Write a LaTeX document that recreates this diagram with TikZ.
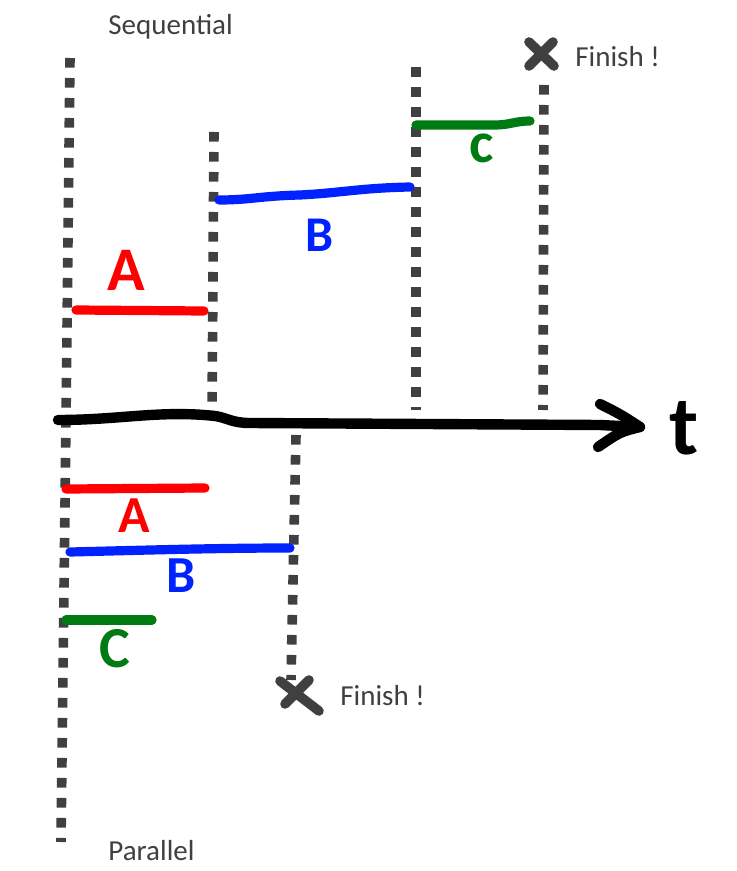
\documentclass[tikz,border=0pt]{standalone}
\usepackage{fontspec}
\setmainfont{Carlito}
\usetikzlibrary{arrows.meta}
\definecolor{inkgray}{HTML}{404040}
\definecolor{inkred}{HTML}{FF0000}
\definecolor{inkblue}{HTML}{0022FF}
\definecolor{inkgreen}{HTML}{007A12}

\begin{document}
\begin{tikzpicture}[x={(0.5pt,0)},y={(0,-0.5pt)},
  dotline/.style={inkgray,line width=4.8pt,dash pattern=on 4.8pt off 5.2pt},
  pen/.style={line width=4.6pt,line cap=round,line join=round},
  hand/.style={font=\fontsize{#1}{#1}\selectfont\bfseries,inner sep=0pt},
  note/.style={inkgray,font=\fontsize{14.5}{16}\selectfont,inner sep=0pt}]
  \useasboundingbox (0,0) rectangle (736,871);

  % time boundaries
  \draw[dotline] (70,58) -- (66,420) -- (61,842);
  \draw[dotline] (214,132) -- (212,416);
  \draw[dotline] (416,67) -- (416,410);
  \draw[dotline] (544,85) -- (543,410);
  \draw[dotline] (296,435) -- (291,680);

  % time axis
  \draw[pen,line width=5.2pt] (58,420) .. controls (120,420) and (160,410) .. (215,416)
    .. controls (228,418) and (232,423) .. (250,423) -- (600,425) -- (640,427);
  \draw[pen,line width=5.2pt] (600,404) .. controls (620,414) .. (640,427)
    .. controls (620,432) .. (598,447);
  \node[hand=42] (t) at (684,428) {t};

  % sequential
  \draw[pen,inkred] (76,310) -- (204,311);
  \node[hand=31,inkred] (seqA) at (126,270) {A};
  \draw[pen,inkblue] (219,200) .. controls (250,200) and (260,196) .. (300,195)
    .. controls (340,193) and (360,188) .. (410,187);
  \node[hand=25,inkblue] (seqB) at (320,235) {B};
  \draw[pen,inkgreen] (416,125) -- (495,125) .. controls (510,125) and (515,121) .. (530,121);
  \node[hand=29,inkgreen] (seqC) at (482,148) {c};

  % parallel
  \draw[pen,inkred] (66,489) -- (205,488);
  \node[hand=26,inkred] (parA) at (134,516) {A};
  \draw[pen,inkblue] (70,552) .. controls (150,550) and (220,548) .. (290,548);
  \node[hand=26,inkblue] (parB) at (181,576) {B};
  \draw[pen,inkgreen] (66,620) -- (152,620);
  \node[hand=29,inkgreen] (parC) at (115,649) {C};

  % finish marks
  \draw[pen,inkgray,line width=4.8pt] (529,42) -- (554,66) (553,42) -- (529,66);
  \node[note,anchor=west] (finA) at (575,57) {Finish !};
  \draw[pen,inkgray,line width=4.8pt] (280,681) -- (319,711) (309,680) -- (285,704);
  \node[note,anchor=west] (finB) at (340,696) {Finish !};

  \node[note,anchor=west] (seq) at (108,27) {Sequential};
  \node[note,anchor=west] (par) at (108,851) {Parallel};
\end{tikzpicture}
\end{document}
